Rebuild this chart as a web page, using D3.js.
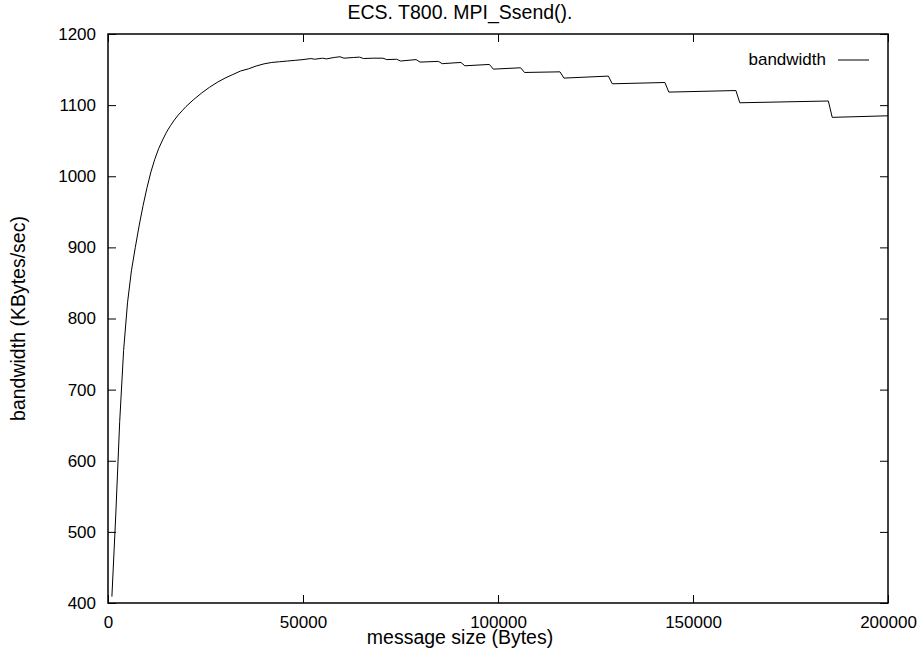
<!DOCTYPE html>
<html>
<head>
  <script src="https://cdnjs.cloudflare.com/ajax/libs/d3/7.8.5/d3.min.js"></script>
  <style>
    body { margin: 0; background: #fff; }
    text { font-family: "Liberation Sans", Arial, sans-serif; }
  </style>
</head>
<body>
  <svg></svg>
  <script>
    // message sizes (bytes)
    var sizes = [1000, 2000, 3000, 4000, 5000, 6000, 7000, 8000, 9000, 10000,
      11000, 12000, 13000, 14000, 15000, 16000, 17000, 18000, 19000, 20000,
      22000, 24000, 26000, 28000, 30000, 32000, 34000, 36000, 38000, 40000,
      42000, 44000, 46000, 48000, 50000, 52000, 53000, 55000, 56000, 58000,
      59500, 60500, 63000, 64500, 65500, 68000, 70500, 71500, 74000, 75000,
      79000, 80000, 84700, 85700, 90500, 91500, 97800, 98800, 105800, 106800,
      115900, 116900, 128300, 129300, 142800, 143800, 161000, 162000, 184700, 185700,
      200000];
    // bandwidth (KBytes/sec)
    var bandwidth = [409, 525, 655, 755, 822, 867, 900, 931, 959, 984,
      1006, 1024, 1039, 1051, 1062, 1071, 1079, 1086, 1092, 1098,
      1108, 1117, 1125, 1132, 1138, 1143, 1148, 1151, 1155, 1158,
      1160, 1161, 1162, 1163, 1164, 1165.5, 1164.5, 1166, 1165, 1167,
      1168, 1166, 1167, 1167.5, 1165.5, 1166, 1166, 1164, 1164.5, 1162,
      1164, 1160.5, 1161.5, 1158.3, 1160, 1155.3, 1157.2, 1150.6, 1152.5, 1145.9,
      1146.8, 1138, 1140.8, 1130, 1131.8, 1118.3, 1120.5, 1103.3, 1105.8, 1082.8,
      1085];
    var xTicks = [0, 50000, 100000, 150000, 200000];
    var yTicks = [400, 500, 600, 700, 800, 900, 1000, 1100, 1200];

    var svgWidth = 920, svgHeight = 653;
    var margin = { top: 34, right: 32, bottom: 50, left: 108 };
    var width = svgWidth - margin.left - margin.right;
    var height = svgHeight - margin.top - margin.bottom;

    var svg = d3.select("svg").attr("width", svgWidth).attr("height", svgHeight);
    var g = svg.append("g").attr("transform", "translate(" + margin.left + "," + margin.top + ")");

    var x = d3.scaleLinear().domain([0, 200000]).range([0, width]);
    var y = d3.scaleLinear().domain([400, 1200]).range([height, 0]);

    var fs = "17px";      // tick labels and key
    var labelFs = "19.5px"; // title and axis labels

    // axes with inward ticks (gnuplot style)
    var xAxis = g.append("g").attr("transform", "translate(0," + height + ")")
      .call(d3.axisBottom(x).tickValues(xTicks).tickSize(-8).tickPadding(13).tickFormat(d3.format("d")));
    var yAxis = g.append("g")
      .call(d3.axisLeft(y).tickValues(yTicks).tickSize(-8).tickPadding(12).tickFormat(d3.format("d")));
    var xTop = g.append("g")
      .call(d3.axisTop(x).tickValues(xTicks).tickSize(-8).tickFormat(""));
    var yRight = g.append("g").attr("transform", "translate(" + width + ",0)")
      .call(d3.axisRight(y).tickValues(yTicks).tickSize(-8).tickFormat(""));

    [xAxis, yAxis, xTop, yRight].forEach(function(a) {
      a.select(".domain").remove();
      a.selectAll("line").attr("stroke", "#000").attr("stroke-width", 1);
      a.selectAll("text").attr("fill", "#000").style("font-size", fs);
    });

    // frame
    g.append("rect")
      .attr("width", width).attr("height", height)
      .attr("fill", "none").attr("stroke", "#000").attr("stroke-width", 1.5);

    // data line
    var line = d3.line()
      .x(function(d, i) { return x(sizes[i]); })
      .y(function(d) { return y(d); });

    g.append("path")
      .datum(bandwidth)
      .attr("d", line)
      .attr("fill", "none")
      .attr("stroke", "#000")
      .attr("stroke-width", 1);

    // legend
    g.append("text")
      .attr("x", 826 - margin.left).attr("y", 65 - margin.top)
      .attr("text-anchor", "end")
      .style("font-size", fs)
      .text("bandwidth");
    g.append("line")
      .attr("x1", 838 - margin.left).attr("x2", 869 - margin.left)
      .attr("y1", 60 - margin.top).attr("y2", 60 - margin.top)
      .attr("stroke", "#000").attr("stroke-width", 1);

    // title and axis labels, centred on the canvas like gnuplot does
    svg.append("text")
      .attr("x", svgWidth / 2).attr("y", 19)
      .attr("text-anchor", "middle").style("font-size", labelFs)
      .text("ECS. T800. MPI_Ssend().");
    svg.append("text")
      .attr("x", svgWidth / 2).attr("y", 644)
      .attr("text-anchor", "middle").style("font-size", labelFs)
      .text("message size (Bytes)");
    svg.append("text")
      .attr("transform", "translate(25," + (margin.top + height / 2) + ") rotate(-90)")
      .attr("text-anchor", "middle").style("font-size", labelFs)
      .text("bandwidth (KBytes/sec)");
  </script>
</body>
</html>
